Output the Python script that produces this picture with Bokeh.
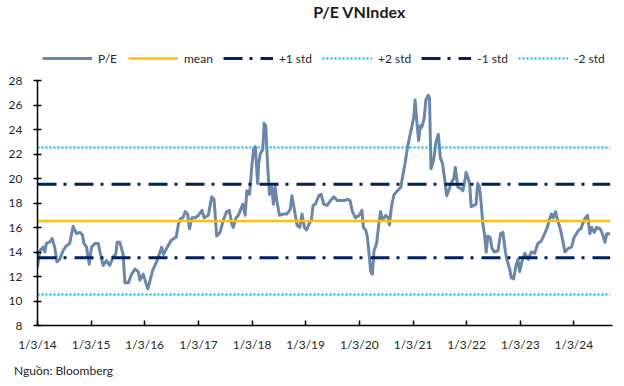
import pandas as pd
from bokeh.plotting import figure
from bokeh.layouts import column
from bokeh.models import Range1d, FixedTicker, Legend, LegendItem, Label, Div
from bokeh.embed import file_html
from bokeh.resources import INLINE

# ---------------- data ----------------
dates = [
    "2014-01-03", "2014-01-19", "2014-02-11", "2014-02-22", "2014-03-04", "2014-03-26", "2014-04-12", "2014-04-30",
    "2014-05-15", "2014-06-03", "2014-06-26", "2014-07-18", "2014-08-10", "2014-09-03", "2014-09-26", "2014-10-18",
    "2014-11-05", "2014-11-15", "2014-12-03", "2014-12-21", "2015-01-06", "2015-01-29", "2015-02-21", "2015-03-03",
    "2015-03-26", "2015-04-17", "2015-05-10", "2015-06-02", "2015-06-20", "2015-06-29", "2015-07-17", "2015-08-09",
    "2015-08-21", "2015-09-14", "2015-10-06", "2015-10-29", "2015-11-20", "2015-12-02", "2015-12-24", "2016-01-10",
    "2016-01-24", "2016-02-09", "2016-02-26", "2016-03-24", "2016-04-16", "2016-04-27", "2016-05-09", "2016-06-01",
    "2016-06-28", "2016-07-17", "2016-08-04", "2016-08-20", "2016-09-01", "2016-09-19", "2016-10-05", "2016-10-21",
    "2016-11-03", "2016-11-19", "2016-12-12", "2017-01-04", "2017-01-27", "2017-02-11", "2017-03-11", "2017-04-03",
    "2017-04-19", "2017-05-07", "2017-05-30", "2017-06-21", "2017-07-14", "2017-08-01", "2017-08-17", "2017-08-28",
    "2017-09-16", "2017-10-02", "2017-10-18", "2017-11-01", "2017-11-17", "2017-11-28", "2017-12-17", "2018-01-02",
    "2018-01-14", "2018-01-25", "2018-02-10", "2018-02-17", "2018-02-28", "2018-03-17", "2018-03-26", "2018-04-06",
    "2018-04-17", "2018-05-01", "2018-05-17", "2018-05-28", "2018-06-09", "2018-06-20", "2018-07-08", "2018-08-05",
    "2018-08-28", "2018-09-20", "2018-10-01", "2018-10-13", "2018-11-05", "2018-11-23", "2018-12-09", "2018-12-25",
    "2019-01-09", "2019-01-26", "2019-02-11", "2019-02-22", "2019-03-10", "2019-04-03", "2019-04-18", "2019-05-06",
    "2019-05-29", "2019-06-21", "2019-07-14", "2019-08-06", "2019-08-29", "2019-09-21", "2019-10-14", "2019-11-01",
    "2019-11-17", "2019-12-09", "2020-01-03", "2020-01-21", "2020-01-31", "2020-02-16", "2020-02-27", "2020-03-09",
    "2020-03-21", "2020-04-01", "2020-04-12", "2020-04-30", "2020-05-15", "2020-05-27", "2020-06-08", "2020-07-01",
    "2020-07-17", "2020-07-26", "2020-08-09", "2020-08-27", "2020-09-19", "2020-10-12", "2020-10-23", "2020-11-09",
    "2020-11-27", "2020-12-20", "2021-01-08", "2021-01-17", "2021-01-30", "2021-02-10", "2021-02-22", "2021-03-04",
    "2021-03-20", "2021-03-31", "2021-04-16", "2021-04-25", "2021-05-05", "2021-05-23", "2021-06-08", "2021-06-24",
    "2021-07-08", "2021-07-23", "2021-08-08", "2021-08-20", "2021-09-03", "2021-09-19", "2021-10-07", "2021-10-18",
    "2021-11-04", "2021-11-22", "2021-12-08", "2021-12-19", "2021-12-30", "2022-01-11", "2022-01-23", "2022-02-03",
    "2022-02-21", "2022-03-08", "2022-03-19", "2022-03-31", "2022-04-11", "2022-04-23", "2022-05-04", "2022-05-16",
    "2022-05-27", "2022-06-12", "2022-06-24", "2022-07-12", "2022-08-04", "2022-08-22", "2022-09-07", "2022-09-24",
    "2022-10-06", "2022-10-23", "2022-11-03", "2022-11-19", "2022-12-03", "2022-12-18", "2022-12-30", "2023-01-16",
    "2023-02-03", "2023-02-26", "2023-03-19", "2023-04-11", "2023-05-03", "2023-05-26", "2023-06-18", "2023-07-06",
    "2023-07-22", "2023-08-03", "2023-08-15", "2023-08-31", "2023-09-14", "2023-09-30", "2023-10-15", "2023-11-03",
    "2023-11-26", "2023-12-18", "2024-01-05", "2024-01-21", "2024-02-06", "2024-02-20", "2024-03-06", "2024-03-22",
    "2024-04-05", "2024-04-21", "2024-05-03", "2024-05-21", "2024-06-06", "2024-06-29", "2024-07-15", "2024-08-02",
    "2024-08-14", "2024-09-06",
]
pe = [
    12.8, 14.1, 14.4, 14.0, 14.7, 14.8, 15.1, 14.4,
    13.2, 13.4, 14.1, 14.5, 14.7, 16.1, 15.5, 15.6,
    15.4, 14.7, 14.4, 13.0, 14.4, 14.7, 14.7, 14.1,
    12.9, 13.3, 12.9, 13.6, 13.8, 14.8, 14.8, 13.8,
    11.5, 11.5, 12.2, 12.6, 12.4, 11.7, 12.2, 11.5,
    11.0, 11.7, 12.5, 13.2, 14.0, 14.4, 13.8, 14.3,
    14.9, 15.1, 15.2, 16.3, 16.7, 16.8, 17.3, 17.1,
    15.9, 16.8, 16.8, 17.0, 17.4, 16.8, 17.0, 18.5,
    18.3, 15.3, 15.6, 16.6, 17.3, 17.4, 16.3, 16.0,
    16.8, 17.0, 17.5, 17.9, 17.0, 19.0, 18.7, 21.1,
    22.4, 22.6, 19.6, 21.2, 22.0, 22.4, 24.5, 24.3,
    21.5, 18.7, 19.3, 17.9, 19.3, 18.2, 17.0, 17.1,
    17.1, 17.5, 18.6, 17.8, 16.2, 16.0, 17.1, 16.0,
    15.8, 16.3, 16.6, 17.8, 17.9, 18.6, 18.7, 17.9,
    17.8, 18.2, 18.5, 18.2, 18.2, 18.2, 18.3, 18.2,
    17.3, 16.8, 17.0, 17.4, 16.0, 15.8, 15.2, 13.9,
    12.4, 12.2, 14.1, 14.7, 16.3, 17.3, 16.6, 17.0,
    16.8, 16.2, 17.7, 18.7, 19.0, 19.3, 20.1, 21.2,
    22.6, 23.9, 25.0, 26.4, 24.5, 23.1, 24.3, 24.2,
    24.9, 26.4, 26.8, 26.6, 20.8, 21.5, 23.0, 23.6,
    21.7, 21.2, 19.8, 18.6, 19.0, 19.6, 20.0, 20.9,
    19.3, 19.2, 19.0, 19.6, 20.5, 20.1, 19.6, 17.7,
    17.8, 17.9, 19.6, 19.3, 18.1, 16.3, 15.5, 14.0,
    15.3, 15.2, 14.3, 14.0, 14.1, 15.5, 15.6, 14.0,
    13.3, 12.6, 11.9, 11.8, 12.8, 13.4, 12.4, 13.3,
    13.9, 13.4, 14.0, 13.9, 14.7, 14.9, 15.5, 16.0,
    16.7, 17.1, 16.8, 17.3, 16.6, 16.0, 15.2, 14.0,
    14.3, 14.4, 15.2, 15.5, 15.8, 15.9, 16.4, 16.8,
    17.0, 15.5, 16.0, 15.6, 16.0, 15.9, 15.5, 14.8,
    15.5, 15.5,
]
pe_mean = 16.53
pe_std = 3.0
tick_dates = ["2014-01-03", "2015-01-03", "2016-01-03", "2017-01-03", "2018-01-03", "2019-01-03",
              "2020-01-03", "2021-01-03", "2022-01-03", "2023-01-03", "2024-01-03"]
tick_labels = ["1/3/14", "1/3/15", "1/3/16", "1/3/17", "1/3/18", "1/3/19",
               "1/3/20", "1/3/21", "1/3/22", "1/3/23", "1/3/24"]
y_ticks = [8, 10, 12, 14, 16, 18, 20, 22, 24, 26, 28]
series_names = ["P/E", "mean", "+1 std", "+2 std", "-1 std", "-2 std"]
x_start, x_end = "2014-01-03", "2024-09-22"

# ---------------- styles ----------------
FONT = "Lato"
TXT = "#262626"
styles = [
    dict(line_color="#6A87AA", line_width=3, line_join="round"),
    dict(line_color="#FFC000", line_width=2.5),
    dict(line_color="#002060", line_width=3, line_dash="19 7 3 8"),
    dict(line_color="#00B0F0", line_width=2, line_dash="2 2"),
    dict(line_color="#002060", line_width=3, line_dash="19 7 3 8"),
    dict(line_color="#00B0F0", line_width=2, line_dash="2 2"),
]

x = pd.to_datetime(dates)
span_x = [x[0], x[-1]]
series_y = [pe, [pe_mean] * 2, [pe_mean + pe_std] * 2, [pe_mean + 2 * pe_std] * 2,
            [pe_mean - pe_std] * 2, [pe_mean - 2 * pe_std] * 2]
series_x = [x] + [span_x] * 5

# ---------------- header: title + legend ----------------
# (frames of plots in a column are aligned: the header frame spans the main frame's width)
head = figure(width=624, height=70, output_backend="svg", toolbar_location=None,
              x_range=Range1d(0, 1), y_range=Range1d(0, 1),
              x_axis_location=None, y_axis_location=None, min_border=0)
head.outline_line_color = None
head.grid.visible = False
# same series, drawn outside the header's visible ranges, only to feed the legend
head_rs = [head.line(sx, sy, **st) for sx, sy, st in zip(series_x, series_y, styles)]
head.add_layout(Label(x=322, y=59, x_units="screen", y_units="screen", text="P/E VNIndex",
                      text_align="center", text_baseline="middle", text_font=FONT,
                      text_font_size="16px", text_font_style="bold", text_color="#1a1a1a"))
legend = Legend(items=[LegendItem(label=n, renderers=[r]) for n, r in zip(series_names, head_rs)],
                orientation="horizontal", location=(5, 2),
                glyph_width=50, glyph_height=20, label_height=20, label_standoff=6, spacing=10,
                padding=0, margin=0, border_line_alpha=0, background_fill_alpha=0,
                label_text_font=FONT, label_text_font_size="12px", label_text_color=TXT)
head.add_layout(legend, "center")

# ---------------- main chart ----------------
p = figure(width=624, height=285, x_axis_type="datetime", output_backend="svg",
           toolbar_location=None,
           x_range=Range1d(pd.Timestamp(x_start), pd.Timestamp(x_end)),
           y_range=Range1d(8, 28),
           min_border_left=37, min_border_right=12, min_border_top=10, min_border_bottom=30)
p.outline_line_color = None
p.grid.visible = False
p.background_fill_color = "white"
p.border_fill_color = "white"

for sx, sy, st in zip(series_x, series_y, styles):
    p.line(sx, sy, **st)

tick_ms = [pd.Timestamp(d).value // 10**6 for d in tick_dates]
p.xaxis.ticker = FixedTicker(ticks=tick_ms)
p.xaxis.major_label_overrides = {t: l for t, l in zip(tick_ms, tick_labels)}
p.yaxis.ticker = FixedTicker(ticks=y_ticks)
for ax in (p.xaxis[0], p.yaxis[0]):
    ax.axis_line_color = "black"
    ax.axis_line_width = 1.5
    ax.major_tick_line_color = "black"
    ax.major_tick_line_width = 1.5
    ax.minor_tick_line_color = None
    ax.major_label_text_font = FONT
    ax.major_label_text_font_size = "12px"
    ax.major_label_text_color = TXT
p.xaxis.major_tick_in = 5
p.xaxis.major_tick_out = 0
p.xaxis.major_label_standoff = 11
p.yaxis.major_tick_in = 4
p.yaxis.major_tick_out = 4
p.yaxis.major_label_standoff = 11

# ---------------- footer: source ----------------
foot = Div(text=f'<div style="margin:4px 0 0 9px; font-family:{FONT}; font-size:12px; '
                f'line-height:14px; color:{TXT}; white-space:nowrap;">Nguồn: Bloomberg</div>',
           width=624, height=31)

layout = column(head, p, foot, spacing=0)
open("out.html", "w").write(file_html(layout, INLINE))
